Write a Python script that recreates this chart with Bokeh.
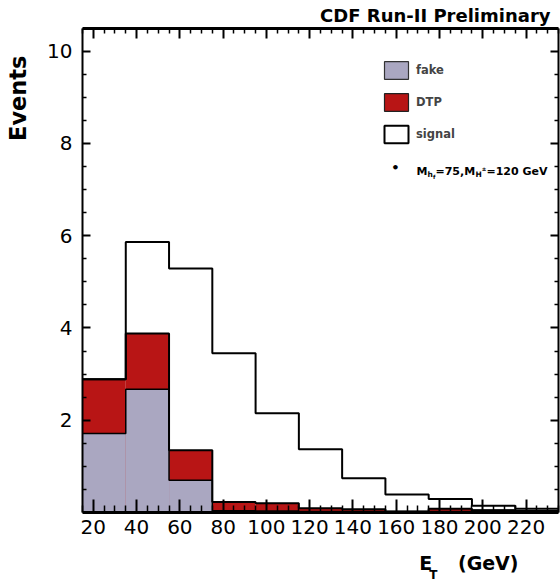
import numpy as np
from bokeh.plotting import figure
from bokeh.models import (Range1d, LinearAxis, FixedTicker, Label, Legend,
                          LegendItem, Title, CustomLabelingPolicy)
from bokeh.embed import file_html
from bokeh.resources import INLINE

# ---------------- data ----------------
bin_edges = [15, 35, 55, 75, 95, 115, 135, 155, 175, 195, 215, 235]
fake = [1.71, 2.67, 0.70, 0.04, 0.03, 0.02, 0.02, 0.02, 0.02, 0.05, 0.03]
dtp = [1.18, 1.21, 0.65, 0.19, 0.17, 0.07, 0.05, 0.00, 0.06, 0.00, 0.00]
signal = [0.00, 1.98, 3.94, 3.22, 1.95, 1.28, 0.67, 0.37, 0.21, 0.095, 0.05]

x_major = [20, 40, 60, 80, 100, 120, 140, 160, 180, 200, 220]
x_minor = [15, 25, 30, 35, 45, 50, 55, 65, 70, 75, 85, 90, 95, 105, 110, 115,
           125, 130, 135, 145, 150, 155, 165, 170, 175, 185, 190, 195, 205,
           210, 215, 225, 230, 235]
y_major = [2, 4, 6, 8, 10]
y_minor = [0.5, 1, 1.5, 2.5, 3, 3.5, 4.5, 5, 5.5, 6.5, 7, 7.5, 8.5, 9, 9.5, 10.5]

FAKE_COL = "#aaa7c1"
DTP_COL = "#b81515"
FONT = "DejaVu Sans"
NBSP = "\u00a0"

# ---------------- figure ----------------
FL, FB = 82, 512  # frame left / bottom in canvas px
p = figure(width=560, height=582, x_range=Range1d(15, 235), y_range=Range1d(0, 10.49),
           output_backend="svg", toolbar_location=None,
           min_border_left=FL, min_border_right=2, min_border_top=28, min_border_bottom=70)
p.outline_line_color = None
p.xgrid.visible = False
p.ygrid.visible = False
p.background_fill_color = "white"
p.border_fill_color = "white"

edges = np.array(bin_edges, dtype=float)
f = np.array(fake)
d = np.array(dtp)
s = np.array(signal)
cum_fake = f
cum_dtp = f + d
cum_tot = f + d + s

# fills (THStack style: largest first)
p.quad(left=edges[:-1], right=edges[1:], bottom=0, top=cum_tot,
       fill_color="white", line_color=None)
p.quad(left=edges[:-1], right=edges[1:], bottom=0, top=cum_dtp,
       fill_color=DTP_COL, line_color=None)
p.quad(left=edges[:-1], right=edges[1:], bottom=0, top=cum_fake,
       fill_color=FAKE_COL, line_color=None)
# outlines
for cum, lw in ((cum_tot, 2), (cum_dtp, 2), (cum_fake, 1.5)):
    p.step(x=edges, y=np.append(cum, cum[-1]), mode="after", line_color="black",
           line_width=lw)

# hidden copies that only feed the legend swatches
r_fake = p.quad(left=edges[:-1], right=edges[1:], bottom=0, top=cum_fake,
                fill_color=FAKE_COL, line_color="#333333", line_width=1.2, visible=False)
r_dtp = p.quad(left=edges[:-1], right=edges[1:], bottom=0, top=cum_dtp,
               fill_color=DTP_COL, line_color="#222222", line_width=1.2, visible=False)
r_sig = p.quad(left=edges[:-1], right=edges[1:], bottom=0, top=cum_tot,
               fill_color="white", line_color="black", line_width=2, visible=False)

# ---------------- axes ----------------
xt = FixedTicker(ticks=x_major, minor_ticks=x_minor)
yt = FixedTicker(ticks=y_major, minor_ticks=y_minor)
no_labels = CustomLabelingPolicy(code="for (const i of indices) { indices.unset(i) }\nreturn indices")

xa = p.xaxis[0]
xa.ticker = xt
xa.major_tick_in = 13
xa.major_tick_out = 0
xa.minor_tick_in = 7
xa.minor_tick_out = 0
xa.axis_line_width = 3
xa.major_tick_line_width = 2
xa.minor_tick_line_width = 1.5
xa.major_label_text_font = FONT
xa.major_label_text_font_size = "20px"
xa.major_label_text_color = "black"
xa.major_label_standoff = 7
# invisible spacer label (pushes the axis title further down)
xa.axis_label = NBSP
xa.axis_label_text_font_size = "7.5px"
xa.axis_label_standoff = 1

ya = p.yaxis[0]
ya.ticker = yt
ya.major_tick_in = 8
ya.major_tick_out = 0
ya.minor_tick_in = 4
ya.minor_tick_out = 0
ya.axis_line_width = 2
ya.major_tick_line_width = 2
ya.minor_tick_line_width = 1.5
ya.major_label_text_font = FONT
ya.major_label_text_font_size = "20px"
ya.major_label_text_color = "black"
ya.major_label_standoff = 10
ya.axis_label = NBSP
ya.axis_label_text_font_size = "10px"
ya.axis_label_standoff = 0

top = LinearAxis(ticker=xt, major_label_text_font_size="0px", major_label_standoff=0,
                 major_label_policy=no_labels,
                 major_tick_in=10, major_tick_out=0, minor_tick_in=5, minor_tick_out=0,
                 axis_line_width=3, major_tick_line_width=2, minor_tick_line_width=1.5)
p.add_layout(top, "above")
right = LinearAxis(ticker=yt, major_label_text_font_size="0px", major_label_standoff=0,
                   major_label_policy=no_labels,
                   major_tick_in=8, major_tick_out=0, minor_tick_in=4, minor_tick_out=0,
                   axis_line_width=2, major_tick_line_width=2, minor_tick_line_width=1.5)
p.add_layout(right, "right")

# ---------------- titles (outside the frame) ----------------
p.title.text = "CDF Run-II Preliminary"
p.title.align = "right"
p.title.offset = 8
p.title.standoff = 5
p.title.text_font = FONT
p.title.text_font_size = "18px"
p.title.text_font_style = "bold"
p.title.text_color = "black"

t_ev = Title(text="Events", align="right", offset=27, standoff=0,
             text_font=FONT, text_font_size="22.5px", text_font_style="bold",
             text_color="black")
p.add_layout(t_ev, "left")

t_e = Title(text="E\u2003" + NBSP + "(GeV)", align="right", offset=40, standoff=0,
            text_font=FONT, text_font_size="19px", text_font_style="bold",
            text_color="black")
p.add_layout(t_e, "below")
t_t = Title(text="T", align="right", offset=121, standoff=-15,
            text_font=FONT, text_font_size="12px", text_font_style="bold",
            text_color="black")
p.add_layout(t_t, "below")

# ---------------- legend ----------------
leg = Legend(items=[LegendItem(label="fake", renderers=[r_fake]),
                    LegendItem(label="DTP", renderers=[r_dtp]),
                    LegendItem(label="signal", renderers=[r_sig])],
             location=(381 - FL, FB - 145), glyph_width=30, glyph_height=22,
             spacing=10, padding=0, margin=0, label_standoff=5,
             label_text_font=FONT, label_text_font_style="bold",
             label_text_font_size="11.5px", border_line_color=None,
             background_fill_alpha=0, click_policy="none")
p.add_layout(leg)


def lab(text, X, Y, size, bold=True, align="left", baseline="alphabetic", angle=0):
    p.add_layout(Label(x=X - FL, y=FB - Y, x_units="screen", y_units="screen",
                       text=text, text_font=FONT, text_font_size=size,
                       text_font_style="bold" if bold else "normal",
                       text_align=align, text_baseline=baseline, angle=angle,
                       text_color="black"))


# bullet line of legend
lab("\u2022", 395, 167, "13px", align="center", baseline="middle")
lab("M", 416, 171, "11px")
lab("h", 427, 174, "7.5px")
lab("f", 432.5, 176, "5.5px")
lab("=75,M", 435, 171, "11px")
lab("H", 475, 174, "7.5px")
lab("\u00b1", 481.3, 168, "5.5px")
lab("=120 GeV", 486, 171, "11px")

open("out.html", "w").write(file_html(p, INLINE))
